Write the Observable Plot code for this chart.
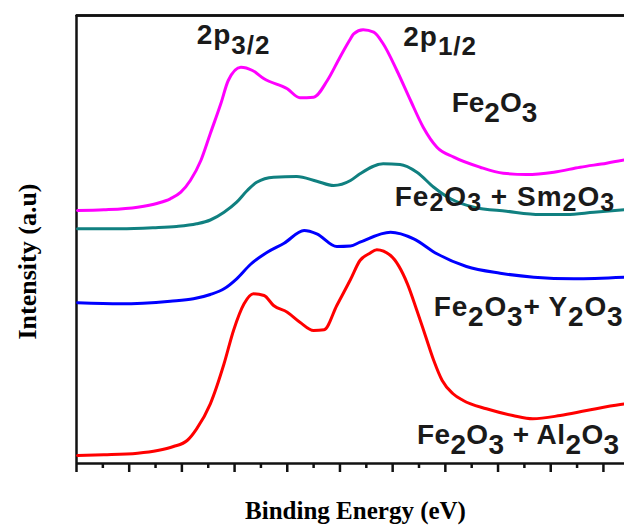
<!DOCTYPE html>
<html>
<head>
<meta charset="utf-8">
<script src="https://cdn.jsdelivr.net/npm/d3@7"></script>
<script src="https://cdn.jsdelivr.net/npm/@observablehq/plot@0.6"></script>
<style>
  html, body { margin: 0; padding: 0; background: #fff; }
</style>
</head>
<body>
<div id="chart"></div>
<script>
// ---- Data (binding energy in eV, intensity in arbitrary units) ----
const energyFe2O3 = [700.1,702.6,705.8,707.7,708.9,709.9,710.8,711.8,712.7,713.7,714.4,715.6,716.7,717.8,720.0,721.2,722.5,723.8,725.0,726.0,726.3,727.2,728.2,729.1,730.4,731.7,732.9,734.2,735.8,738.3,740.5,742.7,745.3,747.8,750.3,752.0];
const intensityFe2O3 = [253,253.7,256.3,260.3,264.7,271.3,283,303,330,360,383,396.3,393,384.7,374.7,365.7,366.3,383,406.3,424.7,429.7,433.7,431.3,419.7,393,363,336.3,316.3,306.3,296.3,290.3,289,291.3,296.3,300.3,303.5];

const energySm = [700.1,704.2,707.3,709.5,711.4,712.7,714.0,715.2,716.2,717.1,718.7,720.9,722.8,724.4,726.0,726.9,729.1,730.7,732.3,733.9,735.5,737.7,740.8,744.0,746.5,749.1,752.0];
const intensitySm = [234.7,234.7,235.7,237,239.7,243.5,251.3,261.3,273,281.3,286.3,287,282.3,278,283,289.7,299.7,299,291.3,276.3,264.7,256.3,252.3,249,249,251.3,253.7];

const energyY = [700.1,704.2,708.9,711.1,712.7,714.0,715.2,716.5,718.1,719.7,721.6,722.8,724.7,726.0,726.9,729.8,732.0,734.2,737.0,740.2,743.4,747.2,752.0];
const intensityY = [160.7,159.7,162.3,164.7,169,174.7,184.7,199,211.3,220.3,233,229.7,217,217.5,221.3,231.3,224.7,209.7,197,190.3,186.3,184.7,186.3];

const energyAl = [700.1,702.6,705.8,707.7,709.2,710.5,711.4,712.7,714.0,714.9,715.9,716.8,717.8,718.7,720.0,721.2,722.5,723.5,724.7,726.0,726.9,727.8,728.5,729.8,731.4,732.3,733.1,733.9,734.7,735.7,736.7,738.9,741.4,743.3,745.9,748.4,751.6,752.0];
const intensityAl = [8,8.7,10.3,13,17,23,34.7,59.7,99.7,133,159.7,169.7,168,158,151.3,141.3,133,133.7,158,184,203,210,213.7,208,179.7,153,128,103,83,70,63,54.7,48,44.7,48,53,59,59.5];

const seriesNames = ["Fe2O3", "Fe2O3 + Sm2O3", "Fe2O3 + Y2O3", "Fe2O3 + Al2O3"];
const seriesColors = ["#ff00ff", "#108080", "#0000ff", "#ff0000"];

// Annotation labels ( _{..} marks subscript )
const labelText = ["2p_{3/2}", "2p_{1/2}", "Fe_{2}O_{3}", "Fe_{2}O_{3} + Sm_{2}O_{3}", "Fe_{2}O_{3}+ Y_{2}O_{3}", "Fe_{2}O_{3} + Al_{2}O_{3}"];
const labelEnergy = [711.4, 731.0, 735.6, 730.2, 733.9, 732.3];
const labelIntensity = [419.7, 418, 351.3, 258, 148, 19.7];
const labelSubSize = [26, 26, 28, 25, 28, 28];
const labelSubShift = [10, 9, 10, 5, 10, 10];
const labelLetterSpacing = [1, 1, 0, 1, 0.8, 0.4];

// Axis ticks (no tick labels shown)
const majorTicks = [700, 705, 710, 715, 720, 725, 730, 735, 740, 745, 750];
const minorTicks = [702.5, 707.5, 712.5, 717.5, 722.5, 727.5, 732.5, 737.5, 742.5, 747.5];

// Frame edges
const energyMin = 700, energyMax = 752;
const frameBottom = 0;
const frameTop = 448;

// ---- Build tables ----
const lists = [
  [energyFe2O3, intensityFe2O3],
  [energySm, intensitySm],
  [energyY, intensityY],
  [energyAl, intensityAl]
];
const rows = [];
lists.forEach(([xs, ys], k) => xs.forEach((e, i) => rows.push({series: seriesNames[k], energy: e, intensity: ys[i]})));
const labels = labelText.map((t, i) => ({text: t, energy: labelEnergy[i], intensity: labelIntensity[i]}));
const topEdge = [{energy: energyMin, intensity: frameTop}, {energy: energyMax, intensity: frameTop}];

const sans = "'Liberation Sans', Arial, Helvetica, sans-serif";
const serif = "'Liberation Serif', 'Times New Roman', serif";
const ink = "#111";

const svg = Plot.plot({
  width: 624,
  height: 525,
  marginLeft: 76,
  marginRight: 0,
  marginTop: 15,
  marginBottom: 62,
  style: {background: "#fff", overflow: "visible"},
  x: {domain: [energyMin, energyMax], axis: null},
  y: {domain: [frameBottom, frameTop], axis: null},
  color: {domain: seriesNames, range: seriesColors},
  marks: [
    Plot.ruleY([frameTop], {stroke: ink, strokeWidth: 2.5}),
    Plot.line(topEdge, {x: "energy", y: "intensity", stroke: ink, strokeWidth: 2.5}),
    Plot.ruleX([energyMin], {stroke: ink, strokeWidth: 2.5}),
    Plot.ruleY([frameBottom], {stroke: ink, strokeWidth: 2.5}),
    Plot.axisX({ticks: majorTicks, tickSize: 9, fill: "none", stroke: ink, strokeWidth: 2.5, label: null}),
    Plot.axisX({ticks: minorTicks, tickSize: 5, fill: "none", stroke: ink, strokeWidth: 2.5, label: null}),
    Plot.line(rows, {x: "energy", y: "intensity", z: "series", stroke: "series", strokeWidth: 3, curve: "monotone-x"}),
    Plot.text(labels, {x: "energy", y: "intensity", text: "text", textAnchor: "start", lineAnchor: "bottom",
      fontFamily: sans, fontWeight: "bold", fontSize: 28, fill: "#1a1a1a"}),
    Plot.text(["Binding Energy (eV)"], {frameAnchor: "bottom", dx: 5, dy: 55, textAnchor: "middle", lineAnchor: "bottom",
      fontFamily: serif, fontWeight: "bold", fontSize: 25, fill: "#000"}),
    Plot.text(["Intensity (a.u)"], {frameAnchor: "left", dx: -41, dy: 22, rotate: -90, textAnchor: "middle", lineAnchor: "bottom",
      fontFamily: serif, fontWeight: "bold", fontSize: 26, fill: "#000"})
  ]
});

// Render subscripts as real tspans
const NS = "http://www.w3.org/2000/svg";
d3.select(svg).selectAll("text").each(function () {
  const s = this.textContent;
  const i = labelText.indexOf(s);
  if (i < 0 || !s.includes("_{")) return;
  const size = labelSubSize[i], shift = labelSubShift[i];
  if (labelLetterSpacing[i]) this.setAttribute("letter-spacing", labelLetterSpacing[i]);
  this.textContent = "";
  let down = false;
  for (const part of s.split(/(_\{[^}]*\})/)) {
    if (!part) continue;
    const ts = document.createElementNS(NS, "tspan");
    if (part.startsWith("_{")) {
      ts.textContent = part.slice(2, -1);
      ts.setAttribute("font-size", size);
      if (!down) { ts.setAttribute("dy", shift); down = true; }
    } else {
      ts.textContent = part;
      if (down) { ts.setAttribute("dy", -shift); down = false; }
    }
    this.appendChild(ts);
  }
});

document.getElementById("chart").appendChild(svg);
</script>
</body>
</html>
